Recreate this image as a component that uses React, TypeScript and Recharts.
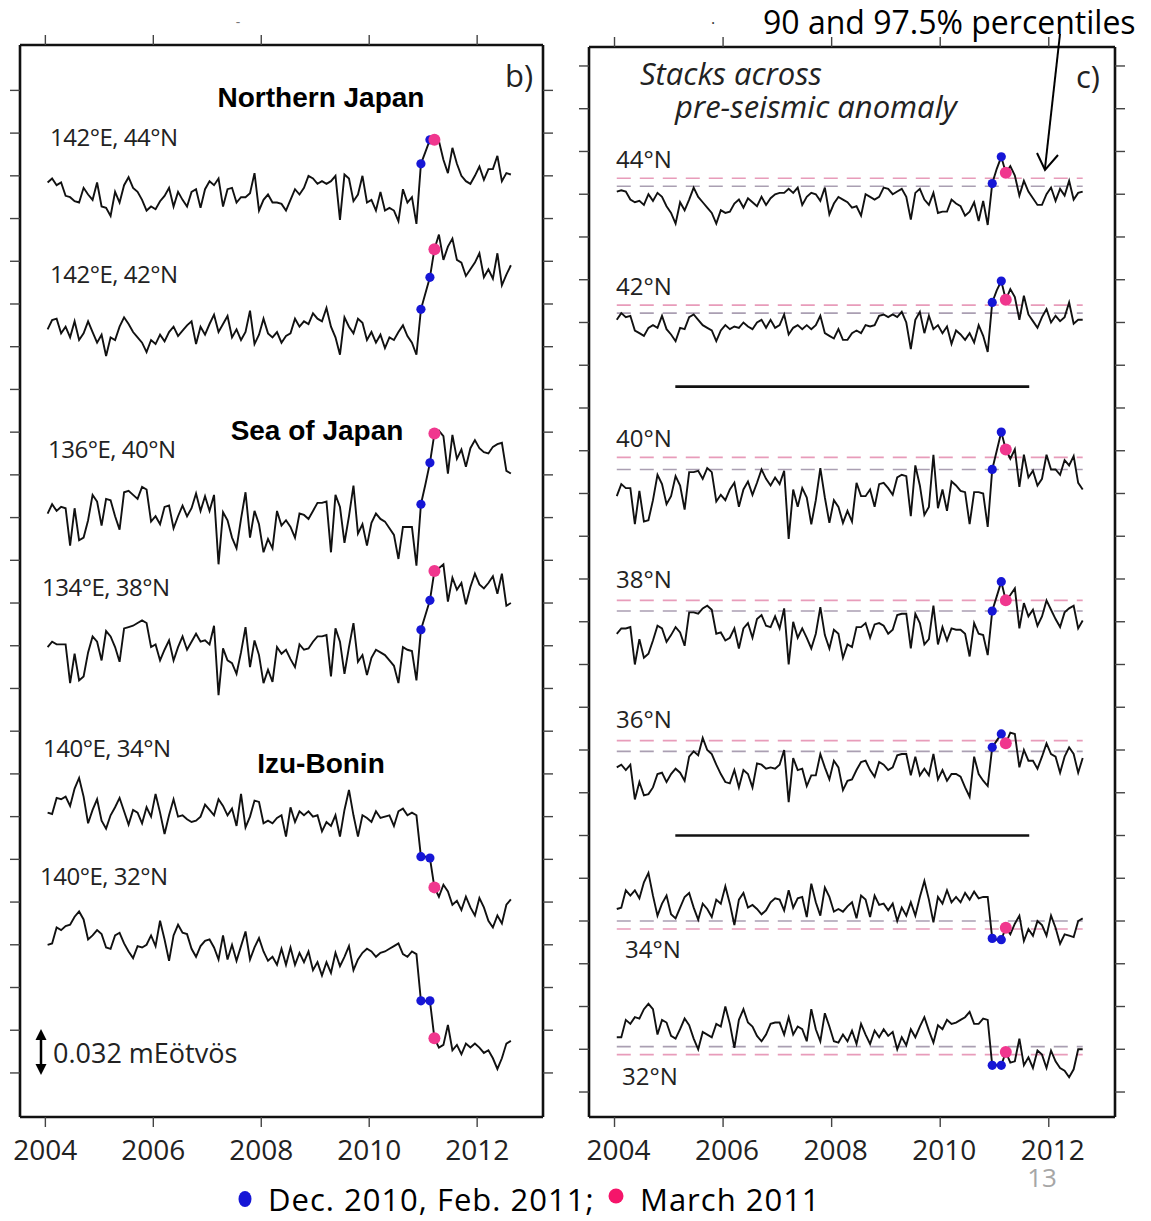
import React from 'react';
import { LineChart, Line, XAxis, YAxis, ReferenceLine } from 'recharts';

// ---------- categories ----------
const START_YEAR = 2004;
const N_MONTHS = 104; // Jan 2004 .. Aug 2012
const YEAR_TICKS = [2004, 2006, 2008, 2010, 2012];
const BLUE_MONTHS = [83, 85]; // Dec 2010, Feb 2011
const PINK_MONTH = 86; // March 2011
const UNIT = 32; // one stack tick = 0.032 mEötvös = 32 µE

// ---------- panel b) values (µEötvös anomalies) ----------
const NJ_142E_44N = [11,14,9,11,1,0,-3,-4,7,2,-2,11,-7,-8,-14,4,-4,9,15,7,4,-2,-10,-7,-9,-3,1,7,-7,4,-2,-7,4,6,-8,6,12,9,14,-7,6,7,-4,0,0,3,18,-10,-2,2,-4,-4,-5,-10,-2,6,2,7,16,14,10,12,10,12,16,-17,17,14,-3,2,16,-4,-2,-10,4,-10,-8,-10,-18,6,-4,0,-20,
  25,34,43,43,42,28,18,37,25,16,12,10,16,23,13,21,21,31,12,18,17];
const NJ_142E_42N = [0,7,8,-3,2,-6,6,-8,-3,6,-2,-10,-4,-20,-6,-8,2,9,4,-2,-6,-10,-17,-8,-11,-4,-9,-2,2,-5,-1,3,6,-11,2,-4,4,11,-2,4,10,-6,0,-8,-2,14,-11,-4,8,-3,-6,-2,-10,-5,-3,8,2,6,4,12,8,6,16,2,-6,-19,9,2,-3,8,5,-8,-2,-10,-4,-14,-6,-8,-2,3,-5,-10,-19,
  15,27,39,60,71,52,62,68,52,50,40,45,50,57,39,45,38,57,33,41,48];
const SJ_136E_40N = [10,17,12,15,14,-14,14,-10,-8,5,24,19,1,21,20,8,-2,26,27,24,21,30,28,4,8,2,15,16,-1,8,16,8,14,25,12,23,12,24,-28,11,5,-8,-16,6,26,-8,12,2,-19,-9,-16,12,1,5,0,-8,10,9,6,12,18,18,19,-19,24,15,-12,8,31,-5,2,-14,3,10,6,4,-1,-6,-24,0,0,0,-29,
  17,32,48,70,72,68,40,69,51,58,45,59,65,59,56,55,60,62,63,42,40];
const SJ_134E_38N = [6,10,8,8,8,-21,1,-19,-16,2,14,10,-4,18,14,6,-5,20,21,22,24,26,24,6,8,-4,4,11,-4,6,14,4,10,16,10,11,8,22,-30,5,-4,-6,-14,2,21,-9,11,0,-21,-11,-20,6,1,4,-3,-9,8,4,5,10,14,14,15,-16,20,10,-14,6,24,-5,0,-15,-2,4,2,0,-4,-8,-21,6,4,3,-19,
  19,30,41,63,65,68,40,58,49,54,38,51,61,53,50,54,59,46,61,37,39];
const IB_140E_34N = [-2,-3,9,8,10,3,16,24,10,-10,0,8,-8,-14,-4,2,9,-1,-11,0,-2,-10,2,-5,12,-2,-18,-4,8,-5,-4,-7,-9,-8,-5,4,0,-4,8,3,-4,1,-12,12,-13,-5,7,6,-10,-8,-10,-6,-4,-20,2,-9,-1,-4,-1,-5,-4,-16,-9,-12,-4,-20,0,15,-4,-20,-4,-6,-9,-1,-6,-5,-4,-12,-1,1,-4,-2,-4,
  -35,-35,-36,-58,-65,-56,-61,-71,-68,-75,-65,-73,-79,-66,-73,-83,-88,-79,-85,-71,-67];
const IB_140E_32N = [1,2,14,12,15,16,22,26,20,5,8,12,9,-1,-2,8,10,2,-4,-9,0,-1,1,8,0,19,5,-11,8,16,10,9,-2,-8,0,4,5,-1,-10,8,-10,1,-11,0,11,-10,-1,6,-4,-11,-8,-14,-2,-14,-1,-14,-5,-12,-4,-18,-12,-22,-12,-20,-5,-15,-8,0,-18,-10,-5,-2,-4,-8,-5,-4,-2,0,2,-6,-8,-4,-6,
  -41,-41,-41,-69,-76,-74,-59,-78,-74,-81,-73,-76,-73,-76,-80,-78,-84,-92,-84,-73,-71];

const LEFT_LABELS = ['142°E, 44°N', '142°E, 42°N', '136°E, 40°N', '134°E, 38°N', '140°E, 34°N', '140°E, 32°N'];
const LEFT_SERIES = [NJ_142E_44N, NJ_142E_42N, SJ_136E_40N, SJ_134E_38N, IB_140E_34N, IB_140E_32N];
const LEFT_OFFSETS = [656, 557, 409, 313, 197, 95];

// ---------- panel c) stacks ----------
const STACK_44N = [6,7,6,0,-2,-1,-4,4,-1,5,2,-5,-10,-18,-2,-8,0,9,2,-2,-6,-10,-18,-8,-10,-9,-3,0,-6,1,-2,-5,2,-4,1,4,5,5,8,5,9,-4,2,5,4,-1,9,-11,-3,2,0,-2,-6,-5,-12,4,2,0,2,9,8,4,6,8,2,-15,5,8,0,-4,5,-10,-9,-9,0,-3,-5,-12,-9,-2,-16,-1,-19,
  12,23,32,20,25,18,3,14,6,1,-4,-4,4,9,-1,8,3,14,0,5,6];
const STACK_42N = [6,11,8,9,-2,-4,-6,0,2,0,9,-1,-5,-10,0,-1,8,10,6,2,0,-2,-10,-2,2,-1,1,0,4,1,-1,4,6,0,6,0,2,10,-5,0,2,-1,2,-1,2,9,-4,-6,-8,-1,-9,-9,-4,-2,-4,2,1,2,9,10,8,10,8,12,4,-16,6,12,-4,9,-1,2,-4,1,-12,-2,-5,-9,-4,-11,2,-6,-18,
  19,28,35,21,29,23,6,24,10,5,0,8,14,4,9,5,8,19,3,6,6];
const STACK_40N = [0,9,6,6,-21,4,-19,-18,-3,16,9,-6,0,15,8,-10,18,18,19,13,21,18,-4,1,-3,5,10,-8,5,11,1,10,20,13,8,14,9,19,-32,5,-8,6,-1,-21,-3,21,-1,-20,-3,-8,-20,-11,-19,10,0,0,5,-8,9,10,6,1,14,16,15,-15,23,8,-14,-8,31,-9,5,-11,11,8,4,3,-21,3,3,2,-23,
  20,34,48,35,28,35,7,31,14,19,8,13,31,20,20,16,27,23,30,10,5];
const STACK_38N = [0,4,4,5,-23,-4,-18,-15,-5,6,4,-6,-1,5,1,-9,16,16,15,19,21,18,0,1,-5,-3,4,-11,4,8,-3,11,14,6,5,13,4,19,-23,9,-3,4,-3,-11,0,20,-1,-11,3,0,-18,-8,-10,5,5,8,-3,7,8,6,0,3,14,15,15,-11,15,8,-8,-4,21,-8,5,-5,4,3,3,0,-17,8,0,-1,-16,
  17,28,39,25,29,34,4,23,13,18,6,13,25,18,11,5,16,19,21,4,10];
const STACK_36N = [1,3,-1,3,-23,-10,-20,-19,-14,-4,-3,-10,-4,0,-3,-9,9,13,10,23,14,11,3,-4,-10,-11,-1,-14,-1,-4,-14,4,3,0,1,0,3,14,-25,8,-1,0,-13,-5,-5,11,1,-8,6,1,-16,-9,-8,-1,5,6,-1,-6,5,3,-1,1,10,11,11,-5,9,-5,0,-5,11,-8,-1,-9,-4,-4,-6,-14,-21,9,-4,-9,-13,
  16,21,26,19,27,26,1,14,6,6,0,9,19,11,9,-3,9,16,11,-3,8];
const STACK_34N = [-4,-3,10,6,10,4,16,23,6,-9,0,6,-8,-11,-3,5,8,-3,-12,0,-4,-10,3,0,13,0,-16,3,8,-3,-1,-4,-8,-5,1,4,3,-5,10,-3,4,5,-10,15,1,-9,12,5,-6,-4,-6,-2,1,-11,6,3,-10,6,-1,0,-5,0,-13,-3,-9,1,-9,5,17,3,-14,5,0,10,1,5,1,8,3,9,4,5,5,
  -26,-27,-27,-18,-23,-15,-9,-28,-19,-24,-13,-16,-24,-9,-18,-30,-23,-24,-25,-13,-11];
const STACK_32N = [-5,-5,8,5,10,9,16,20,16,-3,8,6,-4,-6,1,9,4,-6,-14,-1,-3,-5,5,3,18,5,-13,8,16,6,3,-4,-8,-3,5,6,6,-3,10,-3,3,1,-8,16,1,-8,13,3,-8,-9,-3,-8,0,-10,5,-3,-10,0,-5,1,-4,-1,-14,-5,-11,1,-5,3,10,0,-9,4,1,8,5,6,8,10,14,5,5,9,8,
  -26,-26,-26,-16,-24,-23,-6,-26,-20,-28,-15,-18,-28,-15,-23,-28,-30,-35,-29,-14,-14];

const RIGHT_LABELS = ['44°N', '42°N', '40°N', '38°N', '36°N', '34°N', '32°N'];
const RIGHT_SERIES = [STACK_44N, STACK_42N, STACK_40N, STACK_38N, STACK_36N, STACK_34N, STACK_32N];
const RIGHT_OFFSETS = [668, 572, 446, 343, 242, 141, 46];
const PCT_90 = [10, 11, 20, 17, 13, -13, -12];
const PCT_975 = [16, 17, 29, 25, 21, -19, -18];
const SEPARATORS = [528, 192]; // group separators (µE)
const SEPARATOR_SPAN = [2005.12, 2011.64];

const X_DOMAIN = [2003.53, 2013.22];
const LEFT_Y_DOMAIN = [-33, 770];
const RIGHT_Y_DOMAIN = [-18.7, 782.2];
const LEFT_Y_TICKS = Array.from({ length: 24 }, (_, i) => i * UNIT);
const RIGHT_Y_TICKS = Array.from({ length: 25 }, (_, i) => i * UNIT);

const monthYear = (i: number) => START_YEAR + (i + 0.5) / 12;

function buildRows(series: number[][], offsets: number[]) {
  return Array.from({ length: N_MONTHS }, (_, i) => {
    const row: Record<string, number> = { x: monthYear(i) };
    series.forEach((s, k) => {
      row['s' + k] = offsets[k] + s[i];
    });
    return row;
  });
}

const LEFT_ROWS = buildRows(LEFT_SERIES, LEFT_OFFSETS);
const RIGHT_ROWS = buildRows(RIGHT_SERIES, RIGHT_OFFSETS);

const FONT = "'Open Sans', 'DejaVu Sans', sans-serif";
const BOLD = "'Liberation Sans', Arial, sans-serif";
const FRAME = { stroke: '#111', strokeWidth: 2.6 };
const TICKLINE = { stroke: '#444', strokeWidth: 1.4 };
const BLUE = '#1616d6';
const PINK = '#f0378e';

const renderDot = (props: any) => {
  const { cx, cy, index } = props;
  if (BLUE_MONTHS.includes(index)) return <circle key={'b' + index} cx={cx} cy={cy} r={4.6} fill={BLUE} />;
  if (index === PINK_MONTH) return <circle key={'p' + index} cx={cx} cy={cy} r={6} fill={PINK} />;
  return <g key={'n' + index} />;
};

const blank = () => '';

function Axes({ yDomain, yTicks, topH, leftW, rightW, labelDx }: any) {
  return [
    <XAxis key="xb" xAxisId={0} dataKey="x" type="number" domain={X_DOMAIN} ticks={YEAR_TICKS} allowDataOverflow
      height={83} tickSize={10} tickMargin={13} axisLine={FRAME} tickLine={TICKLINE}
      tick={{ fill: '#222', fontSize: 28, fontFamily: FONT, dx: labelDx }} />,
    <XAxis key="xt" xAxisId="top" orientation="top" dataKey="x" type="number" domain={X_DOMAIN} ticks={YEAR_TICKS}
      allowDataOverflow height={topH} tickSize={10} axisLine={FRAME} tickLine={TICKLINE} tickFormatter={blank} />,
    <YAxis key="yl" yAxisId={0} type="number" domain={yDomain} ticks={yTicks} allowDataOverflow width={leftW}
      tickSize={10} axisLine={FRAME} tickLine={TICKLINE} tickFormatter={blank} />,
    <YAxis key="yr" yAxisId="right" orientation="right" type="number" domain={yDomain} ticks={yTicks} allowDataOverflow
      width={rightW} tickSize={10} axisLine={FRAME} tickLine={TICKLINE} tickFormatter={blank} />,
  ];
}

function LeftPanel() {
  return (
    <LineChart width={560} height={1200} data={LEFT_ROWS} margin={{ top: 0, right: 0, bottom: 0, left: 0 }}>
      {Axes({ yDomain: LEFT_Y_DOMAIN, yTicks: LEFT_Y_TICKS, topH: 45, leftW: 20, rightW: 17, labelDx: 0 })}
      {LEFT_SERIES.map((_, k) => (
        <Line key={k} dataKey={'s' + k} stroke="#111" strokeWidth={1.9} dot={renderDot} activeDot={false}
          isAnimationActive={false} type="linear" />
      ))}
    </LineChart>
  );
}

function RightPanel() {
  const x0 = monthYear(0);
  const x1 = monthYear(N_MONTHS - 1);
  return (
    <LineChart width={591} height={1200} data={RIGHT_ROWS} margin={{ top: 0, right: 0, bottom: 0, left: 0 }}>
      {Axes({ yDomain: RIGHT_Y_DOMAIN, yTicks: RIGHT_Y_TICKS, topH: 47, leftW: 29, rightW: 36, labelDx: 4 })}
      {RIGHT_SERIES.map((_, k) => (
        <ReferenceLine key={'p90' + k} segment={[{ x: x0, y: RIGHT_OFFSETS[k] + PCT_90[k] }, { x: x1, y: RIGHT_OFFSETS[k] + PCT_90[k] }]}
          stroke="#aa9fb2" strokeWidth={1.6} strokeDasharray="14 9" />
      ))}
      {RIGHT_SERIES.map((_, k) => (
        <ReferenceLine key={'p975' + k} segment={[{ x: x0, y: RIGHT_OFFSETS[k] + PCT_975[k] }, { x: x1, y: RIGHT_OFFSETS[k] + PCT_975[k] }]}
          stroke="#e89cba" strokeWidth={1.6} strokeDasharray="14 9" />
      ))}
      {SEPARATORS.map((y, k) => (
        <ReferenceLine key={'sep' + k} segment={[{ x: SEPARATOR_SPAN[0], y }, { x: SEPARATOR_SPAN[1], y }]}
          stroke="#111" strokeWidth={2.6} />
      ))}
      {RIGHT_SERIES.map((_, k) => (
        <Line key={k} dataKey={'s' + k} stroke="#111" strokeWidth={1.9} dot={renderDot} activeDot={false}
          isAnimationActive={false} type="linear" />
      ))}
    </LineChart>
  );
}

const LEFT_LABEL_POS = [[50, 136], [50, 273], [48, 448], [42, 586], [43, 747], [40, 875]];
const RIGHT_LABEL_POS = [[616, 158], [616, 285], [616, 437], [616, 578], [616, 718], [625, 948], [622, 1075]];

function Overlay() {
  const t = { fontFamily: FONT, fill: '#222', dominantBaseline: 'central' as const };
  const b = { fontFamily: BOLD, fontWeight: 700, fontSize: 28, fill: '#000', dominantBaseline: 'central' as const, textAnchor: 'middle' as const };
  return (
    <svg width={1151} height={1221} style={{ position: 'absolute', left: 0, top: 0, pointerEvents: 'none' }}>
      <text x={238} y={21} {...t} fill="#777" fontSize={14} textAnchor="middle">-</text>
      <text x={713} y={18} {...t} fill="#333" fontSize={16} textAnchor="middle">.</text>
      <text x={321} y={97} {...b}>Northern Japan</text>
      <text x={317} y={430} {...b}>Sea of Japan</text>
      <text x={321} y={763} {...b}>Izu-Bonin</text>
      <text x={519} y={75} {...t} fontSize={31} textAnchor="middle">b)</text>
      <text x={1088} y={76} {...t} fontSize={31} textAnchor="middle">c)</text>
      {LEFT_LABELS.map((s, i) => (
        <text key={s} x={LEFT_LABEL_POS[i][0]} y={LEFT_LABEL_POS[i][1]} {...t} fontSize={24} letterSpacing={-0.5}>{s}</text>
      ))}
      {RIGHT_LABELS.map((s, i) => (
        <text key={s} x={RIGHT_LABEL_POS[i][0]} y={RIGHT_LABEL_POS[i][1]} {...t} fontSize={24}>{s}</text>
      ))}
      <text {...t} fontSize={31} fontStyle="italic">
        <tspan x={640} y={73}>Stacks across</tspan>
        <tspan x={675} y={106}>pre-seismic anomaly</tspan>
      </text>
      <text x={763} y={21} {...t} fill="#000" fontSize={32}>90 and 97.5% percentiles</text>
      {/* percentile arrow */}
      <line x1={1060} y1={34} x2={1045} y2={168} stroke="#000" strokeWidth={2} />
      <polyline points="1037,153 1045,170 1058,155" fill="none" stroke="#000" strokeWidth={2} />
      {/* scale bar */}
      <line x1={41} y1={1036} x2={41} y2={1068} stroke="#000" strokeWidth={2.5} />
      <polygon points="41,1029 35.5,1040 46.5,1040" fill="#000" />
      <polygon points="41,1075 35.5,1064 46.5,1064" fill="#000" />
      <text x={53} y={1052} {...t} fontSize={27}>0.032 mEötvös</text>
      {/* legend */}
      <ellipse cx={245} cy={1199} rx={6.5} ry={8} fill={BLUE} />
      <text x={268} y={1199} {...t} fill="#000" fontSize={31} letterSpacing={1}>Dec. 2010, Feb. 2011;</text>
      <ellipse cx={616} cy={1196} rx={7.5} ry={7.5} fill="#f5156a" />
      <text x={640} y={1199} {...t} fill="#000" fontSize={31} letterSpacing={1}>March 2011</text>
      <text x={1042} y={1177} {...t} fill="#a6a6a6" fontSize={26} textAnchor="middle">13</text>
    </svg>
  );
}

export default function App() {
  return (
    <div style={{ position: 'absolute', left: 0, top: 0, width: 1151, height: 1221, background: '#fff', overflow: 'hidden' }}>
      <div style={{ position: 'absolute', left: 0, top: 0 }}>
        <LeftPanel />
      </div>
      <div style={{ position: 'absolute', left: 560, top: 0 }}>
        <RightPanel />
      </div>
      <Overlay />
    </div>
  );
}
